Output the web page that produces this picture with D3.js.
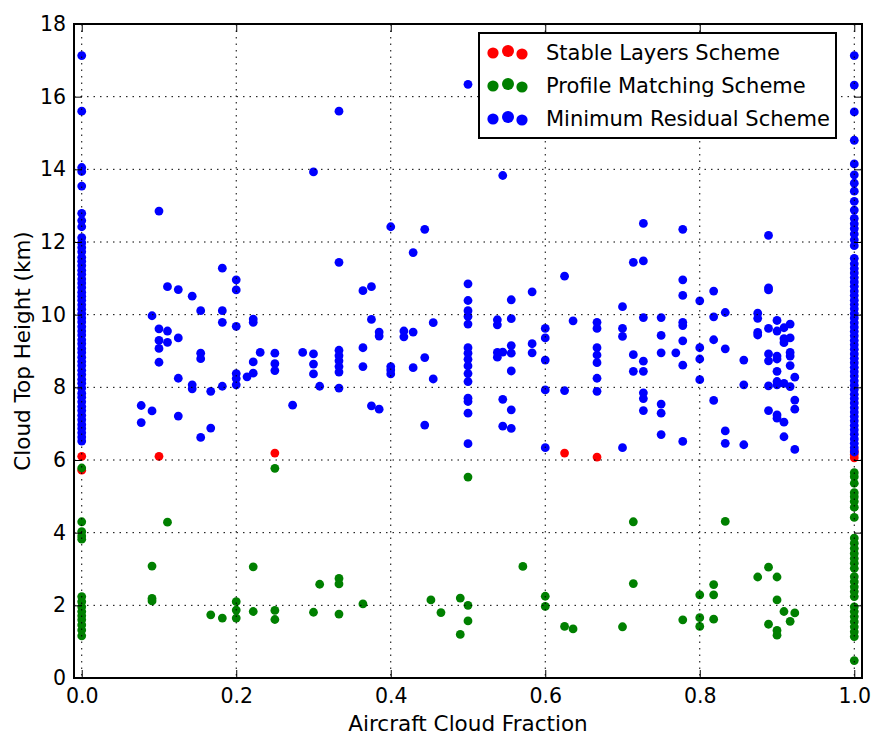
<!DOCTYPE html>
<html>
<head>
<meta charset="utf-8">
<script src="https://cdn.jsdelivr.net/npm/d3@7"></script>
<style>
  body { margin: 0; background: #fff; }
  text { font-family: "DejaVu Sans", sans-serif; }
</style>
</head>
<body>
<script>
// tick values
var xTicks = [0, 0.2, 0.4, 0.6, 0.8, 1.0];
var yTicks = [0, 2, 4, 6, 8, 10, 12, 14, 16, 18];

var seriesNames = ["Stable Layers Scheme", "Profile Matching Scheme", "Minimum Residual Scheme"];
var seriesColors = ["#ff0000", "#008000", "#0000ff"];

// [cloud fraction, cloud top height km]
var stablePts = [[0.1, 6.1], [0.25, 6.19], [0.625, 6.19], [0.667, 6.08]];
var stableAtZero = [6.1, 5.72];
var stableAtOne = [6.25, 6.15, 6.06];

var profilePts = [
  [0.25, 5.77], [0.111, 4.29], [0.091, 3.08], [0.091, 2.19], [0.091, 2.12], [0.222, 3.06],
  [0.333, 2.74], [0.333, 2.59], [0.308, 2.58], [0.2, 2.1], [0.2, 1.87], [0.2, 1.65],
  [0.167, 1.74], [0.182, 1.65], [0.222, 1.83], [0.25, 1.86], [0.25, 1.61], [0.3, 1.81],
  [0.333, 1.76], [0.364, 2.04], [0.452, 2.15], [0.465, 1.8], [0.49, 2.2], [0.49, 1.2],
  [0.5, 5.53], [0.5, 2.0], [0.5, 1.57], [0.571, 3.07], [0.6, 2.25], [0.6, 1.97],
  [0.625, 1.42], [0.636, 1.35], [0.7, 1.41], [0.714, 4.3], [0.714, 2.6], [0.778, 1.6],
  [0.8, 2.29], [0.8, 1.66], [0.8, 1.42], [0.818, 2.57], [0.818, 2.29], [0.818, 1.62],
  [0.833, 4.31], [0.875, 2.78], [0.889, 3.05], [0.9, 2.78], [0.9, 2.15], [0.909, 1.83],
  [0.923, 1.79], [0.917, 1.56], [0.889, 1.48], [0.9, 1.31], [0.9, 1.18]
];
var profileAtZero = [5.78, 4.3, 4.03, 3.91, 3.82, 2.24, 2.1, 1.96, 1.83, 1.71, 1.6, 1.46, 1.32, 1.16];
var profileAtOne = [5.65, 5.54, 5.36, 5.1, 4.99, 4.86, 4.7, 4.42,
  3.85, 3.71, 3.57, 3.43, 3.29, 3.16, 3.02, 2.79, 2.65, 2.51, 2.38, 2.24,
  1.96, 1.83, 1.69, 1.55, 1.41, 1.27, 1.14, 0.48];

var residualPts = [
  [0.3, 13.93], [0.1, 12.85], [0.182, 11.28], [0.333, 11.44], [0.2, 10.96], [0.2, 10.68],
  [0.111, 10.77], [0.125, 10.69], [0.143, 10.51], [0.154, 10.11], [0.182, 10.11], [0.182, 9.79],
  [0.2, 9.68], [0.091, 9.97], [0.1, 9.61], [0.111, 9.55], [0.1, 9.29], [0.111, 9.24],
  [0.1, 9.07], [0.125, 9.36], [0.1, 8.69], [0.154, 8.94], [0.154, 8.79], [0.222, 9.88],
  [0.222, 9.79], [0.231, 8.96], [0.25, 8.94], [0.25, 8.65], [0.25, 8.46], [0.286, 8.96],
  [0.3, 8.92], [0.3, 8.64], [0.3, 8.37], [0.333, 9.02], [0.333, 8.87], [0.333, 8.73],
  [0.333, 8.57], [0.333, 8.42], [0.333, 7.98], [0.222, 8.7], [0.222, 8.39], [0.214, 8.29],
  [0.2, 8.38], [0.2, 8.24], [0.2, 8.07], [0.182, 8.03], [0.167, 7.89], [0.143, 8.07],
  [0.143, 7.96], [0.125, 8.25], [0.308, 8.03], [0.273, 7.51], [0.077, 7.5], [0.091, 7.35],
  [0.077, 7.03], [0.125, 7.21], [0.167, 6.88], [0.154, 6.62],
  [0.5, 16.34], [0.333, 15.6],
  [0.545, 13.83], [0.4, 12.42], [0.444, 12.35], [0.429, 11.71], [0.364, 10.66], [0.375, 10.77],
  [0.5, 10.85], [0.625, 11.06], [0.556, 10.41], [0.583, 10.63], [0.375, 9.87], [0.385, 9.52],
  [0.385, 9.41], [0.417, 9.55], [0.417, 9.39], [0.429, 9.52], [0.455, 9.78], [0.5, 10.39],
  [0.5, 10.11], [0.5, 9.95], [0.5, 9.74], [0.538, 9.86], [0.538, 9.72], [0.556, 9.89],
  [0.6, 9.62], [0.6, 9.36], [0.6, 8.75], [0.636, 9.83], [0.667, 9.79], [0.667, 9.62],
  [0.667, 9.09], [0.667, 8.89], [0.667, 8.68], [0.667, 8.25], [0.667, 7.89], [0.364, 9.09],
  [0.364, 8.57], [0.4, 8.57], [0.4, 8.48], [0.4, 8.37], [0.429, 8.54], [0.444, 8.82],
  [0.455, 8.23], [0.5, 9.09], [0.5, 8.94], [0.5, 8.77], [0.5, 8.59], [0.5, 8.38],
  [0.5, 8.16], [0.5, 7.7], [0.5, 7.61], [0.5, 7.29], [0.5, 6.45], [0.538, 8.96],
  [0.538, 8.83], [0.545, 8.97], [0.556, 9.15], [0.556, 8.94], [0.556, 8.45], [0.583, 9.2],
  [0.583, 8.95], [0.6, 7.93], [0.625, 7.91], [0.545, 7.67], [0.556, 7.38], [0.375, 7.49],
  [0.385, 7.4], [0.444, 6.96], [0.545, 6.93], [0.556, 6.87], [0.6, 6.34],
  [0.727, 12.51], [0.778, 12.35], [0.889, 12.18], [0.714, 11.44], [0.727, 11.48], [0.778, 10.96],
  [0.778, 10.53], [0.818, 10.65], [0.8, 10.38], [0.889, 10.74], [0.889, 10.68], [0.7, 10.22],
  [0.727, 9.92], [0.75, 9.92], [0.778, 9.79], [0.778, 9.7], [0.818, 9.94], [0.833, 10.06],
  [0.875, 10.04], [0.875, 9.9], [0.7, 9.62], [0.7, 9.4], [0.75, 9.43], [0.778, 9.28],
  [0.818, 9.31], [0.833, 9.06], [0.875, 9.51], [0.875, 9.44], [0.889, 9.62], [0.9, 9.84],
  [0.9, 9.55], [0.909, 9.64], [0.917, 9.74], [0.909, 9.34], [0.909, 9.23], [0.917, 9.36],
  [0.917, 8.96], [0.917, 8.86], [0.917, 8.6], [0.923, 8.28], [0.714, 8.9], [0.727, 8.72],
  [0.714, 8.44], [0.727, 8.44], [0.75, 8.95], [0.769, 8.95], [0.778, 8.61], [0.8, 9.09],
  [0.8, 8.78], [0.8, 8.21], [0.857, 8.75], [0.857, 8.07], [0.889, 8.92], [0.889, 8.73],
  [0.9, 8.86], [0.9, 8.78], [0.9, 8.44], [0.9, 8.16], [0.9, 8.07], [0.909, 8.11],
  [0.917, 8.02], [0.889, 8.04], [0.727, 7.85], [0.727, 7.69], [0.727, 7.36], [0.75, 7.54],
  [0.75, 7.29], [0.818, 7.64], [0.923, 7.65], [0.923, 7.4], [0.889, 7.36], [0.9, 7.24],
  [0.9, 7.15], [0.909, 7.04], [0.75, 6.7], [0.833, 6.8], [0.833, 6.46], [0.857, 6.42],
  [0.778, 6.51], [0.909, 6.64], [0.7, 6.34], [0.923, 6.29]
];
var residualAtZero = [17.13, 15.6, 14.05, 13.94, 13.54, 12.79, 12.59, 12.42, 12.12, 11.98,
  11.85, 11.73, 11.58, 11.47, 11.35, 11.22, 11.11, 10.98, 10.87, 10.75, 10.62, 10.51, 10.4,
  10.27, 10.15, 10.03, 9.91, 9.8, 9.67, 9.55, 9.44, 9.31, 9.2, 9.07, 8.96, 8.83, 8.71, 8.6,
  8.47, 8.35, 8.22, 8.11, 7.98, 7.84, 7.73, 7.6, 7.47, 7.36, 7.23, 7.11, 6.98, 6.87, 6.75,
  6.63, 6.52];
var residualAtOne = [17.13, 16.32, 15.58, 14.8, 14.15, 13.85, 13.62, 13.4, 13.12, 12.88,
  12.65, 12.5, 12.37, 12.22, 12.06, 11.9, 11.55, 11.4, 11.27, 11.15, 11.02, 10.9, 10.78,
  10.65, 10.53, 10.4, 10.28, 10.16, 10.03, 9.91, 9.78, 9.66, 9.54, 9.42, 9.29, 9.17, 9.05,
  8.92, 8.8, 8.68, 8.55, 8.43, 8.31, 8.18, 8.06, 7.94, 7.81, 7.69, 7.57, 7.44, 7.32, 7.2,
  7.08, 6.95, 6.83, 6.71, 6.58, 6.46, 6.34, 6.22];

function withColumns(pts, atZero, atOne) {
  return pts
    .concat(atZero.map(function (h) { return [0, h]; }))
    .concat(atOne.map(function (h) { return [1, h]; }));
}

var series = [
  withColumns(stablePts, stableAtZero, stableAtOne),
  withColumns(profilePts, profileAtZero, profileAtOne),
  withColumns(residualPts, residualAtZero, residualAtOne)
];

var width = 871, height = 737;
var margin = {top: 24, right: 9, bottom: 59, left: 74};

var svg = d3.select("body").append("svg")
  .attr("width", width)
  .attr("height", height);

svg.append("rect").attr("width", width).attr("height", height).attr("fill", "#fff");

var xScale = d3.scaleLinear().domain([-0.01, 1.01]).range([margin.left, width - margin.right]);
var yScale = d3.scaleLinear().domain([0, 18]).range([height - margin.bottom, margin.top]);

// points, in legend order (red, green, blue on top)
series.forEach(function (pts, i) {
  svg.append("g").attr("class", "series")
    .selectAll("circle")
    .data(pts)
    .enter().append("circle")
    .attr("cx", function (d) { return xScale(d[0]); })
    .attr("cy", function (d) { return yScale(d[1]); })
    .attr("r", 4.4)
    .attr("fill", seriesColors[i]);
});

// dotted grid, drawn over the points
var grid = svg.append("g").attr("class", "grid")
  .attr("stroke", "#000").attr("stroke-width", 1).attr("stroke-dasharray", "1.5,5");
grid.selectAll(".gx").data(xTicks).enter().append("line")
  .attr("x1", function (d) { return xScale(d); }).attr("x2", function (d) { return xScale(d); })
  .attr("y1", yScale(18)).attr("y2", yScale(0));
grid.selectAll(".gy").data(yTicks).enter().append("line")
  .attr("y1", function (d) { return yScale(d); }).attr("y2", function (d) { return yScale(d); })
  .attr("x1", xScale.range()[0]).attr("x2", xScale.range()[1]);

// axes with inward ticks on all four sides
function styleAxis(g) {
  g.select(".domain").remove();
  g.selectAll(".tick line").attr("stroke", "#000").attr("stroke-width", 1);
  g.selectAll(".tick text").attr("fill", "#000").style("font-size", "20.5px");
}

svg.append("g")
  .attr("transform", "translate(0," + yScale(0) + ")")
  .call(d3.axisBottom(xScale).tickValues(xTicks).tickFormat(d3.format(".1f")).tickSize(-8).tickPadding(10))
  .call(styleAxis);
svg.append("g")
  .attr("transform", "translate(0," + yScale(18) + ")")
  .call(d3.axisTop(xScale).tickValues(xTicks).tickFormat("").tickSize(-8))
  .call(styleAxis);
svg.append("g")
  .attr("transform", "translate(" + xScale.range()[0] + ",0)")
  .call(d3.axisLeft(yScale).tickValues(yTicks).tickFormat(d3.format("d")).tickSize(-8).tickPadding(8))
  .call(styleAxis);
svg.append("g")
  .attr("transform", "translate(" + xScale.range()[1] + ",0)")
  .call(d3.axisRight(yScale).tickValues(yTicks).tickFormat("").tickSize(-8))
  .call(styleAxis);

// frame
svg.append("rect")
  .attr("x", xScale.range()[0]).attr("y", yScale(18))
  .attr("width", xScale.range()[1] - xScale.range()[0])
  .attr("height", yScale(0) - yScale(18))
  .attr("fill", "none").attr("stroke", "#000").attr("stroke-width", 2);

// axis labels
svg.append("text")
  .attr("x", (xScale.range()[0] + xScale.range()[1]) / 2).attr("y", 731)
  .attr("text-anchor", "middle").style("font-size", "21.5px")
  .text("Aircraft Cloud Fraction");
svg.append("text")
  .attr("transform", "translate(30," + ((yScale(0) + yScale(18)) / 2) + ") rotate(-90)")
  .attr("text-anchor", "middle").style("font-size", "21.5px")
  .text("Cloud Top Height (km)");

// legend
var legend = svg.append("g").attr("class", "legend");
legend.append("rect")
  .attr("x", 479).attr("y", 33).attr("width", 357).attr("height", 105)
  .attr("fill", "#fff").attr("stroke", "#000").attr("stroke-width", 2);

var markerX = [493, 508, 522];
var markerDy = [1, -1, 2];
var markerR = [5.6, 6, 5.6];
seriesNames.forEach(function (name, i) {
  var cy = 52 + i * 33;
  var row = legend.append("g");
  row.selectAll("circle").data(markerX).enter().append("circle")
    .attr("cx", function (d) { return d; })
    .attr("cy", function (d, j) { return cy + markerDy[j]; })
    .attr("r", function (d, j) { return markerR[j]; })
    .attr("fill", seriesColors[i]);
  row.append("text")
    .attr("x", 546).attr("y", cy + 7.5)
    .style("font-size", "21px")
    .text(name);
});
</script>
</body>
</html>
